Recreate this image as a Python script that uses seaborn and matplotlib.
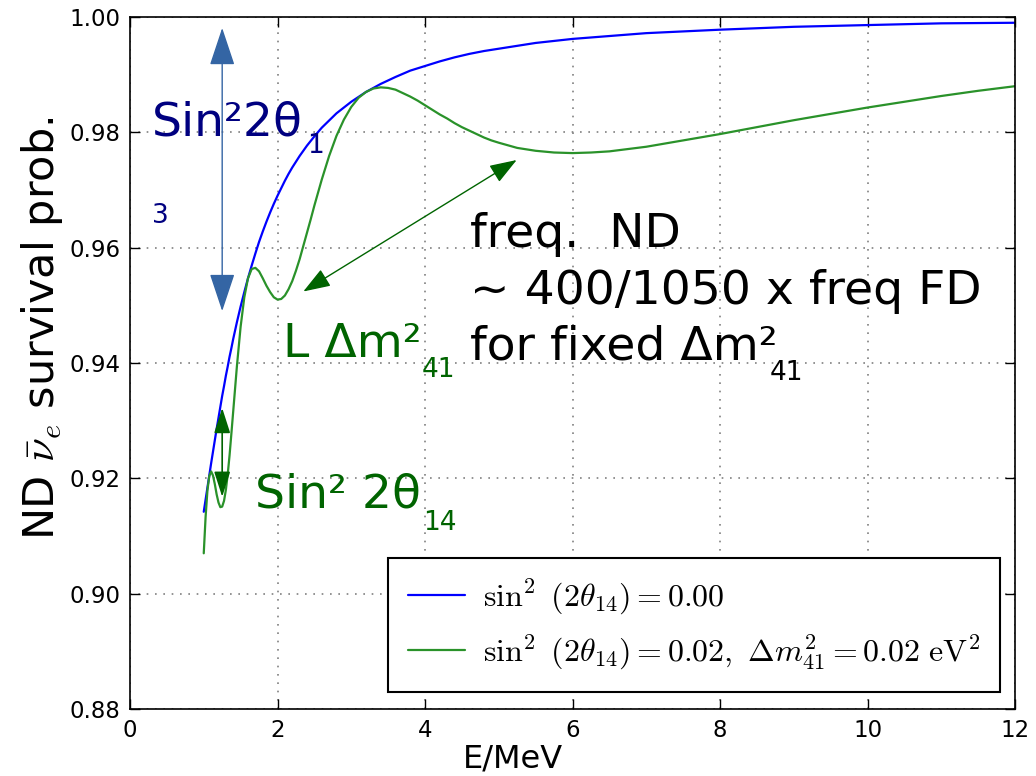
import numpy as np
import pandas as pd
import matplotlib
matplotlib.use("Agg")
import matplotlib.pyplot as plt
import seaborn as sns

# ---- data ----
energy_low = [1.000, 1.025, 1.050, 1.075, 1.100, 1.125, 1.150, 1.175, 1.200, 1.225, 1.250, 1.275,
              1.300, 1.325, 1.350, 1.375, 1.400,
              1.45, 1.50, 1.55, 1.60, 1.65, 1.70, 1.75, 1.80, 1.85, 1.90, 1.95, 2.00, 2.05, 2.10,
              2.15, 2.20, 2.25, 2.30, 2.35, 2.40, 2.45, 2.50]

# no sterile neutrino (blue)
energy_no_sterile = energy_low + [2.6, 2.8, 3.0, 3.2, 3.4, 3.6, 3.8, 4.0, 4.2, 4.4, 4.6, 4.8, 5.0,
                                  5.5, 6.0, 6.5, 7.0, 8.0, 9.0, 10.0, 11.0, 12.0]
prob_no_sterile = [0.9142, 0.9163, 0.9184, 0.9205, 0.9226, 0.9246, 0.9266, 0.9286, 0.9305, 0.9324,
                   0.9343, 0.9360, 0.9378, 0.9394, 0.9411, 0.9426, 0.9442,
                   0.9471, 0.9498, 0.9523, 0.9547, 0.9569, 0.9590, 0.9610, 0.9628, 0.9645, 0.9661,
                   0.9676, 0.9690, 0.9703, 0.9716, 0.9728, 0.9739, 0.9749, 0.9759, 0.9768, 0.9777,
                   0.9785, 0.9793,
                   0.9808, 0.9833, 0.9853, 0.9870, 0.9884, 0.9896, 0.9907, 0.9915, 0.9923, 0.9930,
                   0.9936, 0.9941, 0.9945,
                   0.9955, 0.9962, 0.9967, 0.9972, 0.9978, 0.9983, 0.9986, 0.9989, 0.9990]

# with sterile neutrino (green)
energy_sterile = energy_low + [2.6, 2.7, 2.8, 2.9, 3.0, 3.1, 3.2, 3.3, 3.4, 3.5, 3.6, 3.7, 3.8, 3.9,
                               4.0, 4.1, 4.2, 4.3, 4.4, 4.5, 4.6, 4.7, 4.8, 4.9, 5.0,
                               5.25, 5.50, 5.75, 6.00, 6.25, 6.50, 6.75, 7.0, 7.5, 8.0, 8.5, 9.0,
                               9.5, 10.0, 10.5, 11.0, 11.5, 12.0]
prob_sterile = [0.9070, 0.9133, 0.9179, 0.9204, 0.9212, 0.9205, 0.9190, 0.9172, 0.9158, 0.9150,
                0.9151, 0.9161, 0.9180, 0.9207, 0.9240, 0.9278, 0.9317,
                0.9395, 0.9463, 0.9514, 0.9547, 0.9563, 0.9565, 0.9559, 0.9547, 0.9534, 0.9523,
                0.9514, 0.9510, 0.9511, 0.9517, 0.9528, 0.9542, 0.9560, 0.9580, 0.9603, 0.9626,
                0.9649, 0.9673,
                0.9718, 0.9759, 0.9794, 0.9822, 0.9844, 0.9860, 0.9870, 0.9876, 0.9878, 0.9877,
                0.9874, 0.9868, 0.9862, 0.9855, 0.9847, 0.9839, 0.9831, 0.9824, 0.9816, 0.9809,
                0.9803, 0.9797, 0.9791, 0.9786, 0.9782,
                0.9773, 0.9768, 0.9765, 0.9764, 0.9765, 0.9767, 0.9771, 0.9775, 0.9786, 0.9797,
                0.9809, 0.9821, 0.9832, 0.9843, 0.9853, 0.9863, 0.9872, 0.9880]

series_labels = [r"$\sin^2\ (2\theta_{14})=0.00$",
                 r"$\sin^2\ (2\theta_{14})=0.02,\ \Delta m^2_{41}=0.02\ \mathrm{eV}^2$"]
x_ticks = [0, 2, 4, 6, 8, 10, 12]
y_ticks = [0.88, 0.90, 0.92, 0.94, 0.96, 0.98, 1.00]
y_tick_labels = ["0.88", "0.90", "0.92", "0.94", "0.96", "0.98", "1.00"]

# ---- figure ----
sns.set_style("ticks")
plt.rcParams["mathtext.fontset"] = "cm"
plt.rcParams["font.family"] = ["DejaVu Sans"]
plt.rcParams["text.color"] = "black"
plt.rcParams["axes.labelcolor"] = "black"

W, H = 1036, 776
fig = plt.figure(figsize=(W / 100, H / 100), dpi=100)
ax = fig.add_axes([130 / W, 1 - 709 / H, (1015 - 130) / W, (709 - 17) / H])

df = pd.DataFrame({
    "E": energy_no_sterile + energy_sterile,
    "P": prob_no_sterile + prob_sterile,
    "series": [series_labels[0]] * len(energy_no_sterile) + [series_labels[1]] * len(energy_sterile),
})
sns.lineplot(data=df, x="E", y="P", hue="series", hue_order=series_labels,
             palette=["#0000ff", "#2a922a"], ax=ax, linewidth=1.6, errorbar=None)

ax.set_xlim(0, 12)
ax.set_ylim(0.88, 1.0)
ax.set_xticks(x_ticks)
ax.set_yticks(y_ticks)
ax.set_yticklabels(y_tick_labels)
ax.tick_params(direction="in", top=True, right=True, length=7, width=1,
               labelsize=16.5, colors="black", pad=7)
ax.grid(True, color="#808080", linestyle=(0, (1, 4)), linewidth=1.2)
for sp in ax.spines.values():
    sp.set_color("black")
    sp.set_linewidth(1.2)

ax.set_xlabel("E/MeV", fontsize=23, color="black")
ax.xaxis.set_label_coords(0.433, -0.05)
ax.set_ylabel(r"ND $\bar{\nu}_e$ survival prob.", fontsize=31, color="black")
ax.yaxis.set_label_coords(-0.073, 0.55)

handles, labels = ax.get_legend_handles_labels()
leg = ax.legend(handles, labels, loc="lower right",
                bbox_to_anchor=(1000 / W, 1 - 692 / H), bbox_transform=fig.transFigure,
                borderaxespad=0, fontsize=23, frameon=True, fancybox=False, framealpha=1,
                edgecolor="black", handlelength=1.78, handletextpad=0.56, labelspacing=0.5,
                borderpad=0.62)
leg.get_frame().set_linewidth(1.5)
for line in leg.get_lines():
    line.set_linewidth(1.6)
for t in leg.get_texts():
    t.set_color("black")


def ftxt(x, y, s, size, color):
    fig.text(x / W, 1 - y / H, s, fontsize=size, color=color, ha="left", va="baseline")


navy = "#000080"
dgreen = "#006400"
ftxt(152, 135, "Sin²2θ", 34, navy)
ftxt(307, 153, "1", 19, navy)
ftxt(152, 223, "3", 19, navy)
ftxt(283, 357, "L Δm²", 34, dgreen)
ftxt(422, 377, "41", 19, dgreen)
ftxt(255, 508, "Sin² 2θ", 34, dgreen)
ftxt(423, 530, "14", 19, dgreen)
ftxt(470, 247, "freq.  ND", 34, "black")
ftxt(470, 304, "~ 400/1050 x freq FD", 34, "black")
ftxt(470, 359, "for fixed Δm²", 34, "black")
ftxt(770, 380, "41", 19, "black")

# arrows
ax.annotate("", xy=(1.25, 0.9981), xytext=(1.25, 0.9490),
            arrowprops=dict(arrowstyle="<|-|>,head_length=2.4,head_width=0.8",
                            color="#3465a4", lw=1.0, shrinkA=0, shrinkB=0, mutation_scale=10))
ax.annotate("", xy=(1.25, 0.9322), xytext=(1.25, 0.9168),
            arrowprops=dict(arrowstyle="<|-|>,head_length=1.56,head_width=0.5",
                            color=dgreen, lw=1.2, shrinkA=0, shrinkB=0, mutation_scale=10))
ax.annotate("", xy=(5.243, 0.9752), xytext=(2.35, 0.9524),
            arrowprops=dict(arrowstyle="<|-|>,head_length=1.68,head_width=0.6",
                            color=dgreen, lw=1.0, shrinkA=0, shrinkB=0, mutation_scale=10))

fig.savefig("out.png", dpi=100)
